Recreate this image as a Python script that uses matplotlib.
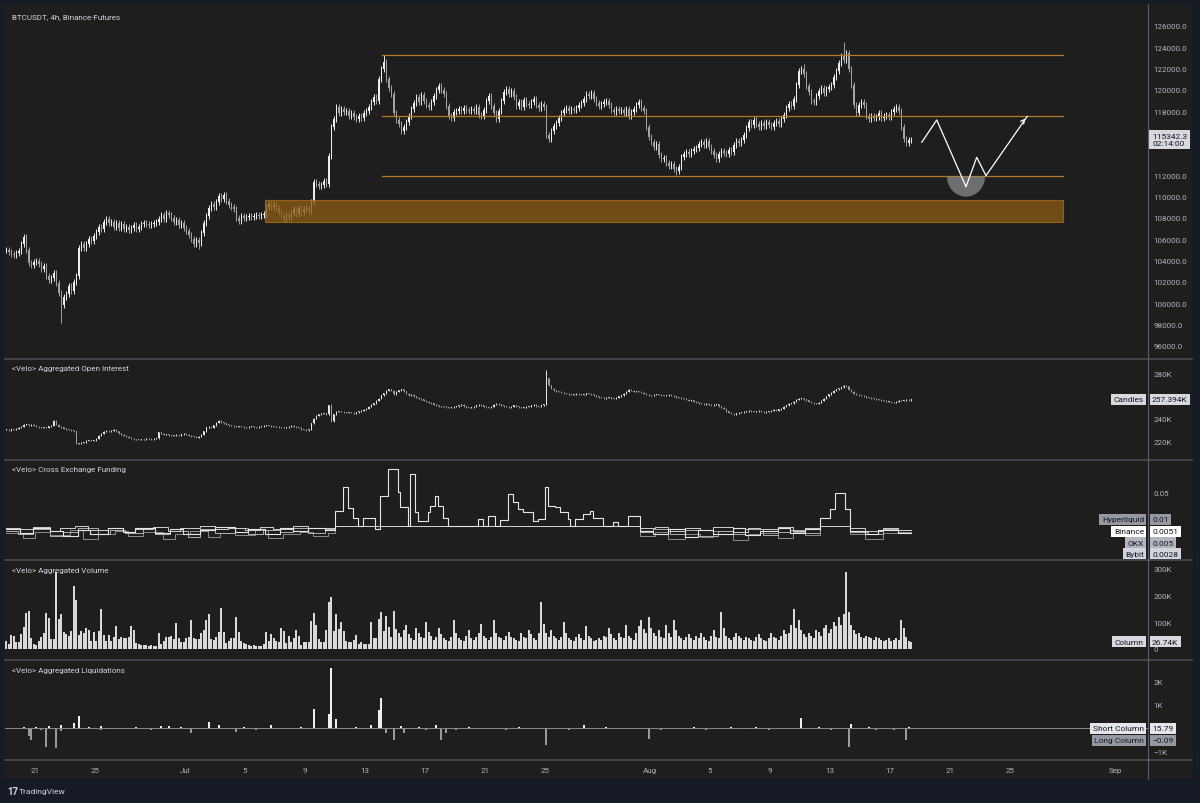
import numpy as np
import matplotlib.pyplot as plt
from matplotlib.patches import Rectangle, Polygon
from matplotlib.lines import Line2D
import matplotlib.transforms as mtrans

plt.rcParams['font.family'] = ['Roboto', 'DejaVu Sans']

# ---------------- data (4h candles, Jun 19 00:00 -> Aug 18) ----------------
# BTCUSDT closes in thousands, one row per day (6 x 4h)
closes = [
    [105.0, 104.8, 104.6, 104.5, 104.7, 104.9],  # Jun 19
    [105.6, 106.2, 105.0, 103.8, 103.6, 103.9],
    [104.0, 103.7, 103.2, 103.5, 102.6, 102.2],
    [102.4, 102.8, 101.9, 101.0, 99.8, 100.6],
    [100.9, 101.6, 101.2, 102.0, 102.6, 105.2],
    [105.6, 105.2, 105.6, 106.0, 105.8, 106.3],
    [106.7, 107.2, 107.0, 107.6, 107.9, 107.5],
    [107.6, 107.2, 107.5, 107.1, 107.4, 107.0],
    [107.2, 106.9, 107.1, 107.3, 107.0, 107.2],
    [107.4, 107.5, 107.4, 107.3, 107.4, 107.5],
    [107.6, 107.9, 108.3, 107.9, 108.5, 108.3],
    [108.0, 107.6, 107.8, 107.3, 107.5, 107.1],
    [106.8, 106.4, 106.0, 105.6, 105.9, 105.7],  # Jul 1
    [106.6, 107.5, 108.2, 108.9, 109.3, 109.0],
    [109.5, 110.1, 109.8, 110.2, 109.6, 109.2],
    [109.0, 108.8, 108.0, 107.7, 108.2, 108.0],
    [108.1, 108.2, 108.1, 108.2, 108.3, 108.2],
    [108.3, 108.4, 109.0, 109.3, 109.0, 109.2],
    [108.9, 108.6, 108.2, 107.9, 108.3, 108.1],
    [108.5, 108.8, 108.4, 108.9, 108.6, 108.8],
    [108.9, 108.7, 109.5, 111.4, 111.2, 111.0],
    [111.1, 111.5, 111.2, 113.8, 116.5, 117.3],
    [118.4, 117.8, 118.2, 117.9, 118.0, 117.6],
    [117.8, 117.5, 117.3, 117.6, 117.4, 117.8],
    [118.0, 118.4, 118.9, 119.3, 119.0, 121.0],
    [122.0, 122.6, 121.0, 120.2, 119.6, 117.8],
    [117.2, 116.8, 116.2, 116.5, 117.0, 117.6],
    [118.2, 118.8, 119.3, 118.9, 119.5, 119.0],
    [118.6, 118.4, 118.9, 119.4, 120.0, 120.4],
    [120.0, 119.6, 118.5, 117.6, 117.4, 117.9],
    [118.0, 118.2, 118.0, 118.3, 118.1, 118.0],
    [118.2, 118.0, 118.4, 117.7, 117.6, 118.1],
    [119.0, 119.4, 118.5, 117.8, 117.3, 118.0],
    [119.0, 119.8, 120.1, 119.6, 119.9, 119.3],
    [118.5, 118.9, 118.4, 119.1, 118.7, 118.6],
    [118.9, 119.2, 118.6, 118.3, 118.7, 118.4],
    [115.8, 115.4, 116.2, 116.6, 116.9, 117.4],
    [117.8, 118.1, 118.3, 118.0, 118.2, 118.1],
    [118.3, 118.6, 118.8, 119.2, 119.6, 119.4],
    [119.7, 119.2, 118.8, 118.5, 118.7, 118.9],
    [119.0, 118.6, 118.1, 117.9, 118.2, 118.0],
    [118.1, 117.8, 118.2, 117.6, 117.9, 118.2],
    [118.6, 118.9, 118.3, 118.0, 116.5, 115.6],  # Jul 31
    [115.1, 114.7, 114.9, 113.9, 113.5, 113.6],  # Aug 1
    [113.2, 112.9, 113.1, 112.6, 112.4, 112.8],
    [113.7, 114.0, 114.2, 114.0, 114.3, 114.5],
    [114.6, 114.9, 115.1, 114.8, 115.2, 114.7],
    [114.3, 113.9, 113.5, 114.0, 114.3, 114.1],
    [114.0, 114.4, 114.2, 114.8, 115.2, 115.0],
    [115.3, 115.8, 116.4, 117.0, 116.7, 117.2],
    [116.8, 116.5, 116.9, 116.6, 117.0, 116.7],
    [116.5, 116.9, 117.1, 116.8, 117.3, 117.7],
    [118.3, 118.7, 118.5, 119.2, 120.5, 121.8],
    [122.0, 121.5, 120.4, 119.8, 119.0, 118.9],
    [119.4, 119.9, 120.2, 119.7, 120.1, 120.3],
    [120.5, 121.2, 121.8, 122.5, 123.2, 122.8],
    [123.5, 122.0, 120.5, 118.6, 117.8, 118.6],
    [118.9, 118.6, 117.6, 117.3, 117.6, 117.4],
    [117.5, 117.8, 117.4, 117.6, 117.7, 117.5],
    [117.9, 118.2, 118.4, 118.0, 116.5, 115.4],
    [115.0, 115.3, 115.3423],
]
# long wicks (candle index -> extreme, thousands)
wick_highs = {151: 123.3, 319: 122.4, 335: 124.5, 7: 106.5}
wick_lows = {22: 98.2, 268: 112.0, 217: 115.1, 77: 105.1}

# Aggregated open interest closes (K), one row per day
oi_closes = [
    [230.5, 230.0, 231.0, 230.5, 231.5, 232.0],
    [233.0, 235.0, 235.5, 234.5, 235.0, 234.0],
    [233.0, 232.5, 232.0, 232.8, 232.0, 233.5],
    [234.0, 238.5, 235.0, 233.0, 232.5, 231.5],
    [231.0, 230.5, 230.0, 229.0, 218.0, 218.5],
    [219.0, 219.5, 220.5, 221.0, 220.5, 221.0],
    [222.5, 225.0, 227.0, 228.5, 229.5, 229.0],
    [229.5, 230.5, 229.0, 227.5, 226.0, 225.0],
    [224.0, 223.5, 222.5, 222.0, 222.0, 221.5],
    [221.8, 222.0, 222.3, 222.5, 222.0, 222.5],
    [223.0, 228.0, 227.0, 226.0, 226.5, 225.5],
    [225.0, 225.5, 226.0, 225.5, 226.5, 227.0],
    [226.0, 225.0, 224.5, 224.0, 223.5, 224.0],
    [226.0, 229.0, 232.5, 233.0, 232.0, 234.5],
    [236.5, 238.5, 237.0, 236.0, 235.5, 234.5],
    [234.0, 233.5, 233.0, 233.5, 233.0, 232.5],
    [232.5, 233.0, 233.5, 232.5, 232.5, 233.0],
    [233.5, 234.0, 234.5, 234.0, 233.5, 233.0],
    [233.0, 232.5, 232.0, 232.0, 232.5, 233.0],
    [234.0, 233.0, 232.5, 232.0, 231.0, 230.5],
    [230.0, 231.0, 236.0, 240.0, 243.0, 244.0],
    [244.5, 245.0, 244.0, 252.0, 238.0, 244.0],
    [246.5, 247.0, 246.5, 246.0, 245.5, 246.0],
    [245.5, 245.0, 246.0, 247.0, 247.5, 248.0],
    [249.0, 251.0, 252.5, 254.0, 256.0, 258.0],
    [261.0, 263.0, 265.0, 266.5, 265.0, 262.0],
    [264.0, 265.5, 266.5, 264.5, 262.5, 261.0],
    [261.5, 260.0, 259.0, 258.0, 257.5, 256.0],
    [255.5, 254.5, 254.0, 252.5, 252.0, 251.5],
    [251.5, 251.0, 250.5, 250.0, 250.5, 251.0],
    [251.5, 252.0, 252.5, 251.5, 250.5, 250.0],
    [250.5, 251.0, 252.0, 252.5, 252.0, 251.0],
    [250.5, 250.0, 251.0, 252.5, 253.5, 253.0],
    [252.0, 251.5, 251.0, 250.5, 251.0, 252.0],
    [251.5, 250.5, 250.0, 250.5, 251.0, 251.5],
    [252.0, 252.5, 251.5, 251.0, 252.0, 253.0],
    [276.0, 270.0, 267.0, 265.5, 264.5, 264.0],
    [263.5, 263.0, 262.5, 262.0, 261.5, 262.0],
    [262.5, 262.0, 261.5, 262.0, 263.0, 262.5],
    [262.0, 261.0, 260.0, 259.5, 259.0, 258.5],
    [259.0, 259.5, 258.5, 258.0, 259.0, 260.0],
    [261.0, 262.5, 264.0, 266.0, 265.0, 264.0],
    [264.5, 264.0, 263.5, 262.5, 261.5, 261.0],
    [261.0, 261.5, 262.0, 261.5, 261.0, 260.5],
    [261.0, 261.5, 260.5, 260.0, 259.5, 259.0],
    [258.5, 258.0, 257.0, 256.0, 256.5, 255.5],
    [255.0, 254.0, 253.5, 253.0, 253.5, 252.5],
    [252.0, 252.5, 253.0, 251.5, 250.0, 249.0],
    [247.0, 245.5, 244.5, 244.0, 245.0, 245.5],
    [246.0, 246.5, 247.0, 247.5, 247.0, 246.5],
    [247.0, 247.5, 246.5, 246.0, 246.5, 247.0],
    [247.5, 248.0, 247.5, 248.5, 249.0, 251.0],
    [252.0, 253.5, 254.0, 255.5, 257.0, 258.0],
    [258.5, 257.5, 256.5, 255.5, 254.5, 254.0],
    [253.5, 254.5, 256.0, 258.0, 260.0, 262.0],
    [263.5, 265.0, 266.5, 267.5, 268.0, 269.5],
    [269.0, 266.0, 264.0, 262.5, 261.5, 261.0],
    [260.5, 260.0, 259.5, 259.0, 258.5, 258.0],
    [257.5, 257.0, 256.5, 256.0, 255.5, 255.5],
    [255.0, 255.0, 255.5, 256.0, 256.0, 256.5],
    [257.0, 256.5, 257.394],
]
oi_wick_highs = {216: 283.5, 130: 253.0}
oi_wick_lows = {130: 237.0}

# Cross exchange funding (%), run-length pairs (number of 4h bars, rate)
funding_hl = [(6, 0.006), (5, 0.002), (7, 0.008), (5, 0.004), (6, -0.002), (5, 0.005),
              (7, 0.001), (6, 0.007), (5, 0.003), (8, 0.008), (6, 0.002), (5, 0.006),
              (7, 0.000), (6, 0.005), (8, 0.009), (5, 0.003), (7, 0.006), (6, 0.001),
              (5, 0.007), (6, 0.004), (7, 0.008), (4, 0.005),
              (3, 0.028), (2, 0.056), (2, 0.031), (2, 0.020), (2, 0.010),
              (5, 0.020), (2, 0.006), (3, 0.045), (4, 0.078), (1, 0.050), (3, 0.032),
              (1, 0.010), (2, 0.072), (1, 0.026), (4, 0.016), (1, 0.026), (2, 0.034),
              (1, 0.046), (2, 0.034), (2, 0.020), (12, 0.010), (2, 0.018), (2, 0.010),
              (3, 0.022), (2, 0.010), (3, 0.017), (2, 0.048), (2, 0.038), (2, 0.030),
              (4, 0.026), (2, 0.016), (3, 0.018), (1, 0.056), (3, 0.034), (2, 0.033),
              (3, 0.026), (1, 0.018), (2, 0.010), (3, 0.018), (3, 0.024), (1, 0.028),
              (4, 0.020), (4, 0.010), (2, 0.015), (4, 0.010), (5, 0.022),
              (5, 0.004), (6, 0.000), (7, 0.006), (5, -0.003), (6, 0.005), (8, 0.001),
              (5, 0.007), (6, -0.001), (7, 0.004), (5, 0.008), (6, 0.002), (6, 0.006),
              (4, 0.020), (2, 0.030), (4, 0.049), (2, 0.030), (6, 0.004), (5, 0.000),
              (8, 0.005), (6, 0.002)]
funding_binance = [(6, 0.008), (5, 0.006), (7, 0.009), (4, 0.004), (6, 0.007), (5, 0.010),
                   (8, 0.005), (6, 0.008), (5, 0.003), (7, 0.006), (6, 0.009), (5, 0.004),
                   (8, 0.007), (6, 0.010), (5, 0.006), (7, 0.008), (6, 0.005), (5, 0.009),
                   (8, 0.006), (6, 0.010), (5, 0.007), (6, 0.008), (122, 0.010),
                   (6, 0.007), (5, 0.009), (7, 0.004), (6, 0.008), (5, 0.005), (8, 0.009),
                   (6, 0.003), (5, 0.007), (7, 0.006), (6, 0.009), (5, 0.004), (6, 0.008),
                   (12, 0.010), (6, 0.008), (7, 0.004), (6, 0.007), (6, 0.0051)]
funding_okx = [(5, 0.004), (6, 0.001), (7, 0.006), (5, -0.002), (6, 0.003), (8, 0.007),
               (5, 0.000), (6, 0.005), (7, 0.002), (5, 0.008), (6, 0.001), (7, 0.004),
               (5, -0.003), (6, 0.006), (8, 0.002), (5, 0.007), (6, 0.000), (7, 0.005),
               (5, 0.003), (6, 0.008), (7, 0.002), (4, 0.006), (122, 0.010),
               (5, 0.003), (7, 0.006), (6, 0.000), (5, 0.005), (8, -0.002), (6, 0.004),
               (5, 0.001), (7, 0.006), (6, -0.001), (5, 0.003), (6, 0.005), (6, 0.002),
               (12, 0.010), (7, 0.003), (6, 0.000), (6, 0.006), (6, 0.005)]
funding_bybit = [(7, 0.002), (5, -0.004), (6, 0.003), (8, -0.001), (5, 0.005), (6, -0.006),
                 (7, 0.001), (5, 0.004), (6, -0.002), (8, 0.003), (5, -0.005), (6, 0.000),
                 (7, 0.004), (5, -0.003), (6, 0.002), (8, -0.001), (5, 0.005), (6, -0.004),
                 (7, 0.001), (5, 0.003), (6, -0.002), (3, 0.002), (122, 0.010),
                 (6, -0.002), (5, 0.003), (7, -0.006), (6, 0.001), (5, -0.003), (8, 0.004),
                 (6, -0.007), (5, 0.000), (7, 0.002), (6, -0.004), (5, 0.003), (6, -0.001),
                 (12, 0.010), (6, 0.000), (7, -0.005), (6, 0.002), (6, 0.0028)]

# Aggregated volume (K) per 4h bar
volume = [
    31, 19, 52, 50, 25, 25, 56, 81, 135, 144, 40, 19, 15, 31, 44, 60, 134, 115, 37, 37,
    287, 112, 131, 62, 56, 47, 69, 235, 185, 52, 69, 60, 77, 72, 31, 65, 31, 69, 150, 52,
    31, 54, 31, 44, 85, 37, 44, 42, 40, 44, 85, 72, 22, 19, 16, 15, 15, 12, 15, 10,
    10, 60, 19, 31, 44, 44, 47, 37, 97, 40, 25, 25, 40, 44, 110, 40, 37, 37, 60, 72,
    110, 131, 37, 35, 44, 65, 152, 62, 22, 31, 40, 40, 119, 62, 31, 22, 19, 15, 10, 15,
    10, 10, 10, 19, 62, 31, 56, 40, 31, 27, 77, 69, 22, 47, 25, 41, 72, 50, 15, 25,
    25, 25, 106, 135, 90, 37, 27, 27, 72, 177, 194, 69, 131, 75, 102, 69, 31, 25, 27, 35,
    52, 19, 25, 19, 19, 19, 100, 40, 40, 112, 137, 69, 125, 81, 44, 144, 75,
    60, 45, 70, 90, 55, 40, 35, 80, 60, 45, 40, 100, 65, 50, 35, 45, 80, 55, 40, 35,
    30, 45, 110, 60, 40, 35, 30, 50, 70, 40, 35, 45, 60, 95, 50, 40, 35, 45, 110, 60,
    45, 40, 35, 50, 65, 45, 40, 35, 30, 60, 45, 40, 70, 55, 40, 35, 60, 175, 95, 60,
    45, 70, 50, 40, 35, 45, 100, 60, 40, 35, 30, 45, 55, 40, 35, 85, 50, 40, 30, 35,
    40, 35, 50, 45, 80, 55, 40, 35, 60, 45, 40, 90, 50, 40, 35, 60, 85, 110, 75, 60,
    120, 80, 60, 50, 70, 45, 40, 90, 60, 45, 110, 70, 50, 40, 35, 45, 55, 40, 35, 50,
    40, 60, 45, 35, 30, 50, 70, 45, 40, 140, 80, 50, 40, 35, 45, 60, 50, 40, 35, 45,
    40, 35, 30, 45, 55, 40, 35, 30, 40, 60, 45, 40, 35, 50, 70, 55, 60, 90, 150, 80,
    110, 70, 55, 45, 60, 50, 40, 70, 65, 50, 80, 90, 60, 75, 100, 85, 120, 90, 130, 290,
    140, 90, 70, 55, 60, 45, 40, 50, 45, 40, 35, 45, 40, 35, 30, 35, 40, 30, 35, 40,
    35, 110, 80, 45, 30, 26.74,
]

# Aggregated liquidations (K): bar index -> value
liq_short = {7: 0.07, 17: 0.10, 22: 0.17, 27: 0.24, 29: 0.525, 38: 0.10, 62: 0.10, 65: 0.09,
             81: 0.27, 85: 0.13, 106: 0.13, 123: 0.81, 129: 0.60, 130: 2.56, 132: 0.385,
             146: 0.14, 149: 0.78, 150: 1.28, 158: 0.10, 172: 0.17, 231: 0.13, 318: 0.45,
             338: 0.20, 361: 0.08, 362: 0.0158,
             3: 0.03, 12: 0.05, 33: 0.06, 45: 0.04, 52: 0.05, 70: 0.06, 95: 0.05, 112: 0.04,
             118: 0.06, 140: 0.05, 165: 0.06, 185: 0.05, 195: 0.04, 205: 0.06, 240: 0.05,
             250: 0.04, 275: 0.05, 290: 0.06, 300: 0.05, 310: 0.04, 325: 0.07, 345: 0.05,
             352: 0.04}
liq_long = {9: -0.33, 10: -0.51, 16: -0.80, 20: -0.85, 22: -0.12, 38: -0.085, 74: -0.185,
            92: -0.14, 152: -0.185, 155: -0.47, 159: -0.18, 174: -0.51, 176: -0.18,
            216: -0.71, 257: -0.45, 337: -0.80, 360: -0.50, 362: -0.00009,
            14: -0.05, 40: -0.04, 58: -0.06, 100: -0.05, 135: -0.04, 168: -0.06, 180: -0.05,
            200: -0.07, 225: -0.05, 262: -0.06, 280: -0.05, 296: -0.04, 305: -0.06,
            330: -0.05, 348: -0.06, 355: -0.05}

# drawn levels
range_levels = [123300, 117600, 111900]
zone = (107600, 109700)
path_x = [366.7, 372.7, 384.4, 388.7, 392.4, 408.9]  # in 4h bars from Jun 19
path_y = [115100, 117190, 110930, 113690, 111970, 117530]

date_ticks = [2, 6, 12, 16, 20, 24, 28, 32, 36, 43, 47, 51, 55, 59, 63, 67, 74]  # days from Jun 19
date_labels = ['21', '25', 'Jul', '5', '9', '13', '17', '21', '25', 'Aug', '5', '9', '13',
               '17', '21', '25', 'Sep']

# ---------------- helpers ----------------
BG = '#1e1e1e'
FRAME = '#171b26'
TXT = '#b2b5be'
SEP = '#4a4c52'
W, H = 1200, 804


def fx(px):
    return px / W


def fy(py):
    return 1 - py / H


def flat(rows):
    return np.array([v for r in rows for v in r], dtype=float)


def runs(pairs, n):
    a = np.concatenate([np.full(k, v) for k, v in pairs])
    if len(a) < n:
        a = np.concatenate([a, np.full(n - len(a), a[-1])])
    return a[:n]


def fit(a, n):
    a = np.asarray(a, dtype=float)
    if len(a) < n:
        a = np.concatenate([a, np.full(n - len(a), a[-1])])
    return a[:n]


def draw_candles(ax, c, pad, highs, lows, up, down, width=0.6):
    o = np.concatenate([[c[0]], c[:-1]])
    hi = np.maximum(o, c) + pad
    lo = np.minimum(o, c) - pad
    for k, v in highs.items():
        hi[k] = v
    for k, v in lows.items():
        lo[k] = v
    x = np.arange(len(c)) + 0.5
    col = np.where(c >= o, up, down)
    ax.vlines(x, lo, hi, colors=col, lw=0.7)
    h = np.abs(c - o)
    h = np.maximum(h, pad * 0.3)
    ax.bar(x, h, bottom=np.minimum(o, c), width=width, color=col, linewidth=0)


def style(ax, ylim, ticks, labels):
    ax.set_facecolor('none')
    ax.set_xlim(0, (1148 - 5) / 2.5)
    ax.set_ylim(*ylim)
    for s in ax.spines.values():
        s.set_visible(False)
    ax.yaxis.tick_right()
    ax.set_yticks(ticks)
    ax.set_yticklabels(labels)
    ax.tick_params(axis='y', length=0, pad=3.8, labelsize=5.8, labelcolor=TXT)
    ax.tick_params(axis='x', length=0, labelbottom=False)


def pane(top, bottom):
    return fig.add_axes([fx(5), fy(bottom), fx(1148) - fx(5), (bottom - top) / H])


def tag(ax, y, value, fc, tc, name=None, nfc=None, ntc=None):
    tr = mtrans.blended_transform_factory(ax.transAxes, ax.transData)
    ax.text(1.0035, y, value, transform=tr, ha='left', va='center', fontsize=6, color=tc,
            bbox=dict(boxstyle='square,pad=0.3', fc=fc, ec='none'), clip_on=False, zorder=10)
    if name:
        ax.text(0.9965, y, name, transform=tr, ha='right', va='center', fontsize=6,
                color=ntc or tc, bbox=dict(boxstyle='square,pad=0.3', fc=nfc or fc, ec='none'),
                clip_on=False, zorder=10)


# ---------------- figure ----------------
fig = plt.figure(figsize=(12, 8.04), dpi=100, facecolor=FRAME)
fig.patches.append(Rectangle((fx(5), fy(780)), fx(1192) - fx(5), (780 - 5) / H,
                             transform=fig.transFigure, fc=BG, ec='none', zorder=-10))

n = 363
price = flat(closes)[:n] * 1000
oi = flat(oi_closes)[:n]

# main price pane
ax = pane(5, 359)
ptick = [v for v in range(96000, 126001, 2000) if v != 114000]
style(ax, (94875, 128062), ptick, [f'{v:.1f}' for v in ptick])
draw_candles(ax, price, 280, {k: v * 1000 for k, v in wick_highs.items()},
             {k: v * 1000 for k, v in wick_lows.items()}, '#ededed', '#a3a3a3')
zx0, zx1 = (265 - 5) / 2.5, (1063 - 5) / 2.5
ax.add_patch(Rectangle((zx0, zone[0]), zx1 - zx0, zone[1] - zone[0], fc='#8a5a14', ec='#a8701e',
                       lw=0.8, alpha=0.78, zorder=5))
lx0 = (382 - 5) / 2.5
for lv in range_levels:
    ax.plot([lx0, zx1], [lv, lv], color='#b57a28', lw=0.9, zorder=4)
cx, cy = path_x[2], range_levels[2]
th = np.linspace(np.pi, 2 * np.pi, 60)
ax.add_patch(Polygon(np.column_stack([cx + 7.6 * np.cos(th), cy + 1900 * np.sin(th)]),
                     closed=True, fc='#8a8a8a', ec='none', alpha=0.75, zorder=5))
ax.plot(path_x, path_y, color='#ffffff', lw=0.9, zorder=6)
ax.annotate('', xy=(path_x[-1], path_y[-1]), xytext=(path_x[-1] - 2.0, path_y[-1] - 570),
            arrowprops=dict(arrowstyle='->', color='#ffffff', lw=0.9, mutation_scale=7), zorder=6)
tr = mtrans.blended_transform_factory(ax.transAxes, ax.transData)
ax.text(1.0035, 115342.3, '115342.3\n02:14:00', transform=tr, ha='left', va='center',
        fontsize=6, color='#131722', linespacing=1.15,
        bbox=dict(boxstyle='square,pad=0.35', fc='#d7d9de', ec='none'), clip_on=False, zorder=10)

# open interest
ax2 = pane(360, 460)
style(ax2, (204.4, 293.3), [220, 240, 280], ['220K', '240K', '280K'])
draw_candles(ax2, oi, 0.45, oi_wick_highs, oi_wick_lows, '#e6e6e6', '#9c9c9c', width=0.5)
tag(ax2, 257.394, '257.394K', '#d7d9de', '#131722', 'Candles')

# funding
ax3 = pane(461, 560)
style(ax3, (-0.0292, 0.0883), [0.05], ['0.05'])
xs = np.arange(n) + 0.5
for ser, col, lw in [(funding_bybit, '#8c8c8c', 0.7), (funding_okx, '#b0b0b0', 0.7),
                     (funding_binance, '#d0d0d0', 0.7), (funding_hl, '#e6e6e6', 0.8)]:
    ax3.step(xs, runs(ser, n), where='mid', color=col, lw=lw)
tag(ax3, 0.0178, '0.01', '#9598a1', '#131722', 'Hyperliquid')
tag(ax3, 0.0040, '0.0051', '#ffffff', '#131722', 'Binance')
tag(ax3, -0.0097, '0.005', '#b2b5be', '#131722', 'OKX')
tag(ax3, -0.0232, '0.0028', '#d1d4dc', '#131722', 'Bybit')

# volume
ax4 = pane(561, 660)
style(ax4, (-37.5, 333.75), [0, 100, 200, 300], ['0', '100K', '200K', '300K'])
ax4.bar(xs, fit(volume, n), width=0.62, color='#d9d9d9', linewidth=0)
tag(ax4, 26.74, '26.74K', '#d7d9de', '#131722', 'Column')

# liquidations
ax5 = pane(661, 760)
style(ax5, (-1.298, 2.915), [1, 2, -1], ['1K', '2K', '−1K'])
ax5.axhline(0, color='#8a8a8a', lw=0.7)
ax5.bar([k + 0.5 for k in liq_short], list(liq_short.values()), width=0.62, color='#f0f0f0',
        linewidth=0)
ax5.bar([k + 0.5 for k in liq_long], list(liq_long.values()), width=0.62, color='#9a9a9a',
        linewidth=0)
tag(ax5, 0.02, '15.79', '#e3e5ea', '#131722', 'Short Column')
tag(ax5, -0.50, '−0.09', '#9598a1', '#131722', 'Long Column')
ax5.set_xticks([6 * d for d in date_ticks])
ax5.set_xticklabels(date_labels)
ax5.tick_params(axis='x', length=0, labelbottom=True, pad=5.5, labelsize=5.8, labelcolor=TXT)

# separators and frame lines
for py in [359.5, 460.5, 560.5, 660.5, 760.5]:
    fig.add_artist(Line2D([fx(5), fx(1192)], [fy(py), fy(py)], color=SEP, lw=1.2))
fig.add_artist(Line2D([fx(1148), fx(1148)], [fy(5), fy(780)], color='#5d606b', lw=0.8))

# pane titles
titles = [(17, 'BTCUSDT, 4h, Binance-Futures'), (369, '<Velo> Aggregated Open Interest'),
          (470, '<Velo> Cross Exchange Funding'), (571, '<Velo> Aggregated Volume'),
          (671, '<Velo> Aggregated Liquidations')]
for py, t in titles:
    fig.text(fx(12), fy(py), t, fontsize=5.8, color='#d1d4dc', va='center', ha='left')

fig.text(fx(7), fy(792), '17', fontsize=7, fontweight='bold', color='#d1d4dc', va='center')
fig.text(fx(19), fy(792), 'TradingView', fontsize=6, color='#d1d4dc', va='center')

fig.savefig('out.png', dpi=100, facecolor=FRAME)
